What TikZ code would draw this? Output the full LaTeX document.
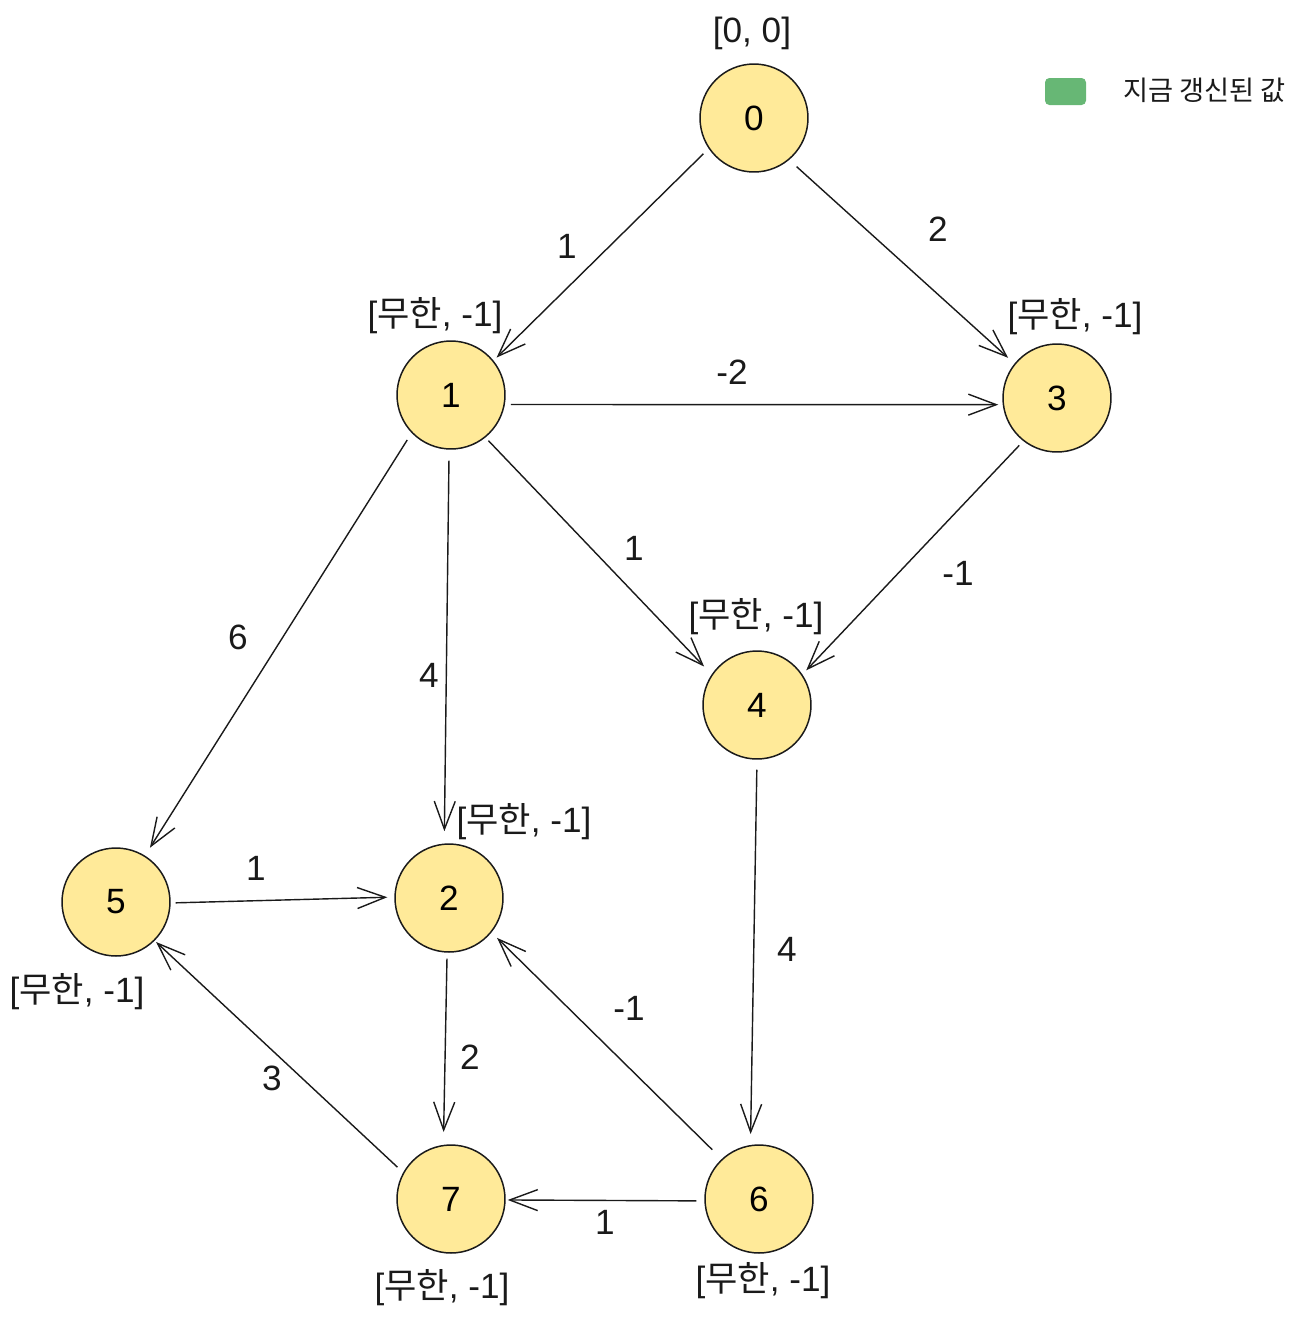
\documentclass[tikz,border=0pt]{standalone}
\usepackage{fontspec}
\setmainfont{Liberation Sans}
\newfontfamily\kr{Noto Sans CJK KR}
\usetikzlibrary{arrows.meta}
\definecolor{nodefill}{HTML}{FFEA99}
\definecolor{legendgreen}{HTML}{67B775}
\definecolor{ink}{HTML}{1A1A1A}
\begin{document}
\begin{tikzpicture}[x=0.02cm,y=-0.02cm,
  vtx/.style={circle,draw=ink,fill=nodefill,line width=0.85pt,minimum size=2.16cm,inner sep=0pt,
    font=\fontsize{20}{24}\selectfont},
  val/.style={font=\fontsize{20}{24}\selectfont,text=ink,inner sep=0pt},
  wlab/.style={font=\fontsize{20}{24}\selectfont,text=ink,inner sep=0pt},
  edge/.style={draw=ink,line width=0.8pt,-{Straight Barb[length=5.6mm,width=4.2mm]}}]
\useasboundingbox (0,0) rectangle (1297,1319);

% vertices
\node[vtx] (n0) at (754,118) {0};
\node[vtx] (n1) at (451,395) {1};
\node[vtx] (n2) at (449,898) {2};
\node[vtx] (n3) at (1057,398) {3};
\node[vtx] (n4) at (757,705) {4};
\node[vtx] (n5) at (116,902) {5};
\node[vtx] (n6) at (759,1199) {6};
\node[vtx] (n7) at (451,1199) {7};

% value labels
\node[val] (v0) at (752,33) {[0, 0]};
\node[val] (v1) at (435,316) {[{\kr 무한}, -1]};
\node[val] (v3) at (1075,317) {[{\kr 무한}, -1]};
\node[val] (v4) at (756,617) {[{\kr 무한}, -1]};
\node[val] (v2) at (524,822) {[{\kr 무한}, -1]};
\node[val] (v5) at (77,992) {[{\kr 무한}, -1]};
\node[val] (v7) at (442,1288) {[{\kr 무한}, -1]};
\node[val] (v6) at (763,1281) {[{\kr 무한}, -1]};

% edges
\draw[edge,shorten <=1.46mm,shorten >=0.86mm] (n0.-146.3) -- (n1.39.4);
\draw[edge,shorten <=2.0mm,shorten >=1.72mm] (n0.-50.1) -- (n3.141.5);
\draw[edge,shorten <=1.2mm,shorten >=0.88mm] (n1.-10.6) -- (n3.-173.1);
\draw[edge,shorten <=0.88mm,shorten >=2.18mm] (n1.-51.9) -- (n4.146.3);
\draw[edge,shorten <=1.16mm,shorten >=1.12mm] (n3.-128.2) -- (n4.34.8);
\draw[edge,shorten <=1.64mm,shorten >=1.86mm] (n1.-136.3) -- (n5.58.6);
\draw[edge,shorten <=2.2mm,shorten >=2.46mm] (n1.-92.6) -- (n2.95.2);
\draw[edge,shorten <=2.0mm,shorten >=2.18mm] (n4.-90.9) -- (n6.99.8);
\draw[edge,shorten <=1.0mm,shorten >=1.4mm] (n5.-1) -- (n2.179.1);
\draw[edge,shorten <=1.2mm,shorten >=2.56mm] (n2.-92.9) -- (n7.98.6);
\draw[edge,shorten <=2.64mm,shorten >=1.56mm] (n6.133.2) -- (n2.-39.1);
\draw[edge,shorten <=1.56mm,shorten >=0.38mm] (n7.151) -- (n5.-45.7);
\draw[edge,shorten <=1.6mm,shorten >=0.4mm] (n6.-178.2) -- (n7.-1);

% edge weights
\node[wlab] (w01) at (567,246) {1};
\node[wlab] (w03) at (938,229) {2};
\node[wlab] (w13) at (732,372) {-2};
\node[wlab] (w14) at (634,548) {1};
\node[wlab] (w34) at (958,573) {-1};
\node[wlab] (w15) at (238,637) {6};
\node[wlab] (w12) at (429,675) {4};
\node[wlab] (w46) at (787,949) {4};
\node[wlab] (w52) at (256,868) {1};
\node[wlab] (w27) at (470,1057) {2};
\node[wlab] (w62) at (629,1008) {-1};
\node[wlab] (w75) at (272,1078) {3};
\node[wlab] (w67) at (605,1222) {1};

% legend
\node[draw=none,fill=legendgreen,rounded corners=2.5pt,minimum width=0.82cm,minimum height=0.54cm,inner sep=0pt] (legbox) at (1065.5,91.5) {};
\node[font=\kr\fontsize{15.5}{18}\selectfont,text=ink,inner sep=0pt,anchor=west] (legtext) at (1123,90) {지금 갱신된 값};
\end{tikzpicture}
\end{document}
